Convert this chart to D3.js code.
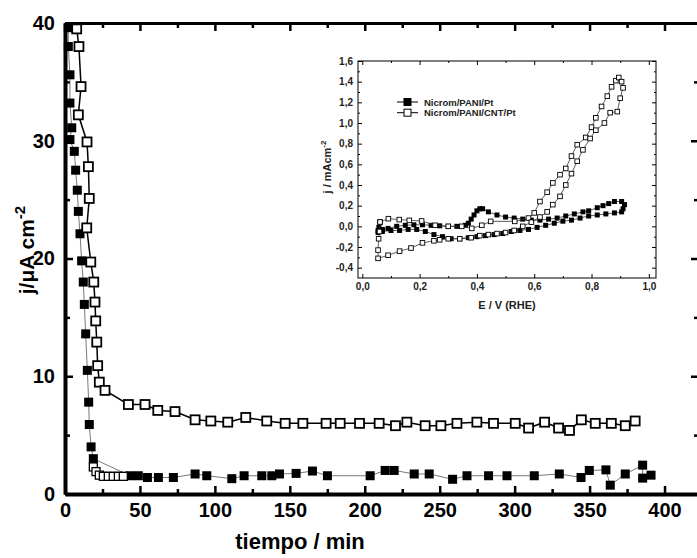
<!DOCTYPE html>
<html>
<head>
<meta charset="utf-8">
<script src="https://cdn.jsdelivr.net/npm/d3@7"></script>
<style>
  body { margin: 0; background: #fff; }
  svg { display: block; font-family: "Liberation Sans", Arial, sans-serif; }
</style>
</head>
<body>
<svg id="svg" width="697" height="558"></svg>
<script>
// main plot: current density vs time
const cntT = [7.8, 9.3, 10.7, 8.9, 14.7, 15.6, 16.2, 14.5, 17.2, 19.2, 20, 20.5, 21.2, 21.8, 22.9, 26.7, 42.3, 53.4, 61.9, 73.4, 86.8, 97.3, 108.6, 120.6, 134.6, 146.9, 158.7, 174.2, 183.6, 196.5, 209.6, 220.5, 228.1, 240.3, 250.8, 261.5, 274.8, 285.9, 300.4, 309.3, 320, 329.3, 336.6, 344.5, 353.8, 364.5, 373.8, 380.4];
const cntJ = [39.5, 38.0, 34.6, 32.2, 29.9, 27.8, 25.1, 22.6, 19.7, 18.0, 16.3, 14.7, 12.9, 10.9, 9.5, 8.8, 7.6, 7.6, 7.1, 7.0, 6.3, 6.2, 6.1, 6.5, 6.2, 6.0, 6.0, 6.0, 6.0, 6.0, 6.0, 5.8, 6.1, 5.8, 5.8, 6.0, 6.1, 6.0, 6.0, 5.6, 6.1, 5.6, 5.4, 6.3, 6.0, 6.0, 5.8, 6.2];

const paniT = [2.2, 2.2, 3.3, 3.3, 4.5, 3.3, 6.2, 7.1, 8.2, 8.9, 10, 11.1, 12.2, 12.9, 13.8, 14.9, 15.8, 16.2, 17.4, 18.9, 43.4, 48.9, 55, 62.3, 72.3, 86.8, 94.6, 111.3, 119.5, 131.3, 138, 143.1, 154.2, 165.1, 175.1, 203.6, 213.6, 219.6, 233, 243, 258.6, 268.2, 282.6, 294.9, 313.1, 329.8, 344.3, 349.8, 360.9, 363.8, 373.8, 385.4, 385.4, 391];
const paniJ = [39.6, 38.0, 35.6, 33.2, 31.1, 30.1, 29.1, 27.5, 25.8, 24.0, 22.1, 19.8, 18.0, 16.1, 13.6, 10.5, 7.8, 5.9, 4.0, 3.0, 1.55, 1.55, 1.4, 1.4, 1.4, 1.7, 1.55, 1.3, 1.55, 1.55, 1.55, 1.7, 1.75, 1.95, 1.55, 1.55, 2.0, 2.0, 1.7, 1.7, 1.25, 1.55, 1.55, 1.55, 1.55, 1.7, 1.4, 2.0, 2.05, 0.75, 1.7, 2.45, 1.35, 1.6];

// open markers sitting on the low plateau right after the drop
const knee_T = [18.9, 20.7, 22.9, 25.6, 28.9, 32.2, 35.6, 38.9];
const knee_J = [2.3, 1.9, 1.6, 1.5, 1.5, 1.5, 1.5, 1.5];

const xTicks = [0, 50, 100, 150, 200, 250, 300, 350, 400];
const yTicks = [0, 10, 20, 30, 40];

// inset: cyclic voltammograms
const cvCntE = [0.062, 0.091, 0.129, 0.164, 0.207, 0.254, 0.30, 0.347, 0.382, 0.417, 0.448, 0.532, 0.58, 0.60, 0.62, 0.645, 0.665, 0.69, 0.71, 0.73, 0.75, 0.78, 0.80, 0.815, 0.835, 0.855, 0.87, 0.885, 0.895, 0.905, 0.91, 0.90, 0.89, 0.865, 0.845, 0.815, 0.795, 0.77, 0.75, 0.73, 0.71, 0.69, 0.665, 0.645, 0.62, 0.59, 0.56, 0.53, 0.50, 0.47, 0.44, 0.41, 0.38, 0.34, 0.30, 0.27, 0.25, 0.21, 0.17, 0.13, 0.09, 0.055, 0.055, 0.057, 0.06, 0.062];
const cvCntJ = [0.042, 0.074, 0.065, 0.058, 0.052, 0.010, 0.0, 0.0, -0.02, 0.01, 0.048, 0.048, 0.08, 0.13, 0.24, 0.33, 0.42, 0.50, 0.56, 0.68, 0.79, 0.86, 0.96, 1.05, 1.16, 1.26, 1.35, 1.41, 1.44, 1.40, 1.34, 1.24, 1.11, 1.10, 1.00, 0.93, 0.85, 0.74, 0.63, 0.51, 0.40, 0.29, 0.21, 0.14, 0.09, 0.04, 0.0, -0.04, -0.06, -0.07, -0.08, -0.09, -0.11, -0.12, -0.12, -0.13, -0.14, -0.16, -0.21, -0.24, -0.28, -0.31, -0.23, -0.12, -0.05, 0.042];

const cvPaniE = [0.055, 0.07, 0.10, 0.13, 0.16, 0.19, 0.22, 0.25, 0.28, 0.31, 0.34, 0.37, 0.40, 0.43, 0.46, 0.49, 0.52, 0.55, 0.58, 0.61, 0.64, 0.67, 0.70, 0.73, 0.76, 0.79, 0.82, 0.85, 0.88, 0.905, 0.91, 0.915, 0.905, 0.88, 0.86, 0.84, 0.82, 0.79, 0.77, 0.74, 0.71, 0.68, 0.65, 0.62, 0.59, 0.56, 0.53, 0.50, 0.47, 0.44, 0.42, 0.41, 0.40, 0.39, 0.38, 0.37, 0.36, 0.33, 0.30, 0.27, 0.24, 0.21, 0.18, 0.15, 0.12, 0.09, 0.07, 0.058, 0.055];
const cvPaniJ = [-0.06, -0.05, -0.04, -0.04, -0.03, -0.03, -0.05, -0.08, -0.10, -0.12, -0.12, -0.11, -0.10, -0.09, -0.08, -0.07, -0.05, -0.04, -0.03, -0.01, 0.01, 0.03, 0.05, 0.06, 0.08, 0.10, 0.11, 0.12, 0.13, 0.14, 0.17, 0.21, 0.24, 0.24, 0.22, 0.20, 0.18, 0.15, 0.14, 0.12, 0.10, 0.08, 0.07, 0.06, 0.06, 0.07, 0.08, 0.09, 0.11, 0.14, 0.17, 0.17, 0.15, 0.11, 0.07, 0.03, 0.01, 0.0, 0.0, 0.005, 0.01, 0.015, 0.015, 0.01, 0.0, -0.02, -0.03, -0.01, -0.04];

const insetXTicks = [0, 0.2, 0.4, 0.6, 0.8, 1.0];
const insetYTicks = [-0.4, -0.2, 0, 0.2, 0.4, 0.6, 0.8, 1.0, 1.2, 1.4, 1.6];
const legendNames = ["Nicrom/PANI/Pt", "Nicrom/PANI/CNT/Pt"];

var svg = d3.select("#svg");
var zip = (a, b) => a.map((v, i) => [v, b[i]]);

var x = d3.scaleLinear().domain([0, 423]).range([65, 699]);
var y = d3.scaleLinear().domain([0, 40]).range([494, 23]);

// minor ticks first, then major (all pointing inward)
svg.append("g").attr("transform", "translate(0,494)")
    .call(d3.axisBottom(x).tickValues(d3.range(25, 423, 50)).tickFormat("").tickSizeInner(-5).tickSizeOuter(0));
svg.append("g").attr("transform", "translate(0,23)")
    .call(d3.axisTop(x).tickValues(d3.range(25, 423, 50)).tickFormat("").tickSizeInner(-5).tickSizeOuter(0));
svg.append("g").attr("transform", "translate(65,0)")
    .call(d3.axisLeft(y).tickValues([5, 15, 25, 35]).tickFormat("").tickSizeInner(-5).tickSizeOuter(0));
svg.append("g").attr("transform", "translate(699,0)")
    .call(d3.axisRight(y).tickValues([5, 15, 25, 35]).tickFormat("").tickSizeInner(-5).tickSizeOuter(0));

var xAxis = svg.append("g").attr("transform", "translate(0,494)")
    .call(d3.axisBottom(x).tickValues(xTicks).tickSizeInner(-8).tickSizeOuter(0).tickPadding(9));
svg.append("g").attr("transform", "translate(0,23)")
    .call(d3.axisTop(x).tickValues(xTicks).tickFormat("").tickSizeInner(-8).tickSizeOuter(0));
var yAxis = svg.append("g").attr("transform", "translate(65,0)")
    .call(d3.axisLeft(y).tickValues(yTicks).tickSizeInner(-8).tickSizeOuter(0).tickPadding(10));
svg.append("g").attr("transform", "translate(699,0)")
    .call(d3.axisRight(y).tickValues(yTicks).tickFormat("").tickSizeInner(-8).tickSizeOuter(0));

svg.selectAll(".tick line").attr("stroke", "#000").attr("stroke-width", 2.5);
svg.selectAll(".domain").attr("stroke", "#000").attr("stroke-width", 3);
xAxis.select(".domain").attr("stroke-width", 4);
yAxis.select(".domain").attr("stroke-width", 4);
svg.selectAll(".tick text")
    .attr("font-size", 20).attr("font-weight", "bold").attr("fill", "#000")
    .attr("font-family", "Liberation Sans, Arial, sans-serif");

svg.append("text")
    .attr("x", 300).attr("y", 549)
    .attr("text-anchor", "middle")
    .attr("font-size", 22).attr("font-weight", "bold")
    .text("tiempo / min");

var yl = svg.append("text")
    .attr("transform", "translate(34,250) rotate(-90)")
    .attr("text-anchor", "middle")
    .attr("font-size", 21).attr("font-weight", "bold");
yl.append("tspan").text("j/\u03BCA cm");
yl.append("tspan").attr("dy", -9).attr("font-size", 15).text("-2");

var line = d3.line().x(d => x(d[0])).y(d => y(d[1]));

// PANI series: thin grey line, filled squares
var paniData = zip(paniT, paniJ);
svg.append("path").datum(paniData)
    .attr("fill", "none").attr("stroke", "#555").attr("stroke-width", 0.8)
    .attr("d", line);
svg.append("g").selectAll("rect").data(paniData).join("rect")
    .attr("x", d => x(d[0]) - 4.5).attr("y", d => y(d[1]) - 4.5)
    .attr("width", 9).attr("height", 9).attr("fill", "#000");

var kneeData = zip(knee_T, knee_J);
svg.append("g").selectAll("rect").data(kneeData).join("rect")
    .attr("x", d => x(d[0]) - 4).attr("y", d => y(d[1]) - 4)
    .attr("width", 8).attr("height", 8)
    .attr("fill", "#fff").attr("stroke", "#000").attr("stroke-width", 1.3);

// PANI/CNT series: black line, open squares
var cntData = zip(cntT, cntJ);
svg.append("path").datum(cntData)
    .attr("fill", "none").attr("stroke", "#000").attr("stroke-width", 1.5)
    .attr("d", line);
svg.append("g").selectAll("rect").data(cntData).join("rect")
    .attr("x", d => x(d[0]) - 4.5).attr("y", d => y(d[1]) - 4.5)
    .attr("width", 9).attr("height", 9)
    .attr("fill", "#fff").attr("stroke", "#000").attr("stroke-width", 1.8);

// ---- inset ----
var ix = d3.scaleLinear().domain([-0.015, 1.025]).range([358, 656]);
var iy = d3.scaleLinear().domain([-0.5, 1.6]).range([278, 61]);
var inset = svg.append("g");

inset.append("rect")
    .attr("x", 358).attr("y", 61).attr("width", 298).attr("height", 217)
    .attr("fill", "#fff").attr("stroke", "#000").attr("stroke-width", 1);

inset.append("g").attr("transform", "translate(0,278)")
    .call(d3.axisBottom(ix).tickValues(d3.range(0.1, 1.01, 0.2)).tickFormat("").tickSizeInner(-2).tickSizeOuter(0));
inset.append("g").attr("transform", "translate(0,61)")
    .call(d3.axisTop(ix).tickValues(d3.range(0.1, 1.01, 0.2)).tickFormat("").tickSizeInner(-2).tickSizeOuter(0));
inset.append("g").attr("transform", "translate(358,0)")
    .call(d3.axisLeft(iy).tickValues(d3.range(-0.3, 1.6, 0.2)).tickFormat("").tickSizeInner(-2).tickSizeOuter(0));
inset.append("g").attr("transform", "translate(656,0)")
    .call(d3.axisRight(iy).tickValues(d3.range(-0.3, 1.6, 0.2)).tickFormat("").tickSizeInner(-2).tickSizeOuter(0));

var fmt = d => d3.format(".1f")(d).replace(".", ",").replace("\u2212", "-");
var ixAxis = inset.append("g").attr("transform", "translate(0,278)")
    .call(d3.axisBottom(ix).tickValues(insetXTicks).tickFormat(fmt).tickSizeInner(-4).tickSizeOuter(0).tickPadding(5));
inset.append("g").attr("transform", "translate(0,61)")
    .call(d3.axisTop(ix).tickValues(insetXTicks).tickFormat("").tickSizeInner(-4).tickSizeOuter(0));
var iyAxis = inset.append("g").attr("transform", "translate(358,0)")
    .call(d3.axisLeft(iy).tickValues(insetYTicks).tickFormat(fmt).tickSizeInner(-4).tickSizeOuter(0).tickPadding(5));
inset.append("g").attr("transform", "translate(656,0)")
    .call(d3.axisRight(iy).tickValues(insetYTicks).tickFormat("").tickSizeInner(-4).tickSizeOuter(0));

inset.selectAll(".tick line").attr("stroke", "#000").attr("stroke-width", 1);
inset.selectAll(".domain").attr("stroke", "none");
inset.selectAll(".tick text")
    .attr("font-size", 10).attr("font-weight", "bold").attr("fill", "#222")
    .attr("font-family", "Liberation Sans, Arial, sans-serif");

inset.append("text")
    .attr("x", 507).attr("y", 309)
    .attr("text-anchor", "middle")
    .attr("font-size", 11).attr("font-weight", "bold").attr("fill", "#222")
    .text("E / V (RHE)");
var iyl = inset.append("text")
    .attr("transform", "translate(331,167) rotate(-90)")
    .attr("text-anchor", "middle")
    .attr("font-size", 11).attr("font-weight", "bold").attr("fill", "#222");
iyl.append("tspan").text("j / mAcm");
iyl.append("tspan").attr("dy", -5).attr("font-size", 8).text("-2");

var iline = d3.line().x(d => ix(d[0])).y(d => iy(d[1]));

var cvPani = zip(cvPaniE, cvPaniJ);
inset.append("path").datum(cvPani)
    .attr("fill", "none").attr("stroke", "#333").attr("stroke-width", 0.8)
    .attr("d", iline);
inset.append("g").selectAll("rect").data(cvPani).join("rect")
    .attr("x", d => ix(d[0]) - 2.5).attr("y", d => iy(d[1]) - 2.5)
    .attr("width", 5).attr("height", 5).attr("fill", "#000");

var cvCnt = zip(cvCntE, cvCntJ);
inset.append("path").datum(cvCnt)
    .attr("fill", "none").attr("stroke", "#333").attr("stroke-width", 0.8)
    .attr("d", iline);
inset.append("g").selectAll("rect").data(cvCnt).join("rect")
    .attr("x", d => ix(d[0]) - 2.3).attr("y", d => iy(d[1]) - 2.3)
    .attr("width", 4.6).attr("height", 4.6)
    .attr("fill", "#fff").attr("stroke", "#000").attr("stroke-width", 0.9);

// legend
var leg = inset.append("g").selectAll("g").data(legendNames).join("g")
    .attr("transform", (d, i) => "translate(397," + (102 + i * 10.7) + ")");
leg.append("line").attr("x1", 0).attr("x2", 21)
    .attr("stroke", "#000").attr("stroke-width", 1);
leg.append("rect")
    .attr("x", 7).attr("y", -3.5).attr("width", 7).attr("height", 7)
    .attr("fill", (d, i) => i === 0 ? "#000" : "#fff")
    .attr("stroke", "#000").attr("stroke-width", 1);
leg.append("text")
    .attr("x", 27).attr("y", 3.5)
    .attr("font-size", 9.5).attr("font-weight", "bold").attr("fill", "#222")
    .text(d => d);
</script>
</body>
</html>
